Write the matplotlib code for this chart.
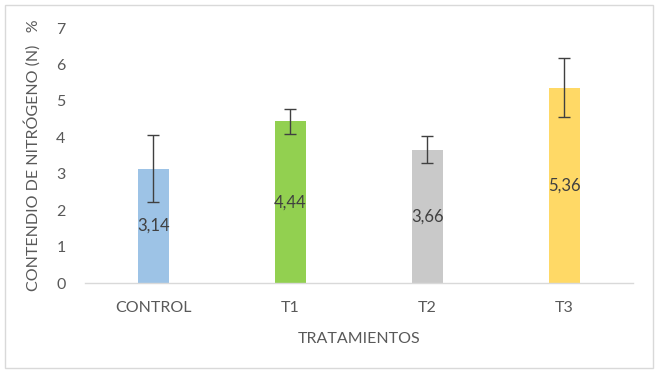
import matplotlib.pyplot as plt
from matplotlib.patches import Rectangle

# data
categories = ["CONTROL", "T1", "T2", "T3"]
values = [3.14, 4.44, 3.66, 5.36]
errors = [0.91, 0.34, 0.37, 0.81]
labels = ["3,14", "4,44", "3,66", "5,36"]
colors = ["#9DC3E6", "#92D050", "#C9C9C9", "#FFD966"]

plt.rcParams['font.family'] = ['Lato', 'DejaVu Sans']
text_color = "#595959"

fig = plt.figure(figsize=(6.59, 3.75), dpi=100)
ax = fig.add_axes([0.129, 0.2453, 0.831, 0.68])

x = list(range(len(categories)))
ax.bar(x, values, width=0.226, color=colors, zorder=2)
ax.errorbar(x, values, yerr=errors, fmt='none', ecolor="#404040",
            elinewidth=1.0, capsize=4, capthick=1.0, zorder=3)

# value labels centered in bars
for xi, v, lab in zip(x, values, labels):
    ax.text(xi, v / 2, lab, ha='center', va='center', fontsize=12,
            color="#404040", zorder=4)

ax.set_xlim(-0.5, 3.5)
ax.set_ylim(0, 7)
ax.set_yticks(range(8))
ax.set_xticks(x)
ax.set_xticklabels(categories)
ax.tick_params(axis='both', length=0, labelsize=11.5, colors=text_color)
ax.tick_params(axis='y', pad=14)
ax.tick_params(axis='x', pad=13)

for s in ['top', 'right', 'left']:
    ax.spines[s].set_visible(False)
ax.spines['bottom'].set_color("#D9D9D9")
ax.spines['bottom'].set_linewidth(1.0)

ax.set_xlabel("TRATAMIENTOS", fontsize=11.5, color=text_color, labelpad=12)
ax.set_ylabel("CONTENDIO DE NITRÓGENO (N)   %", fontsize=11.5,
              color=text_color, labelpad=11)

# outer chart border
fig.patches.append(Rectangle((0.008, 0.019), 0.983, 0.967, transform=fig.transFigure,
                             fill=False, edgecolor="#D9D9D9", linewidth=1.0))

fig.savefig("out.png", dpi=100)
